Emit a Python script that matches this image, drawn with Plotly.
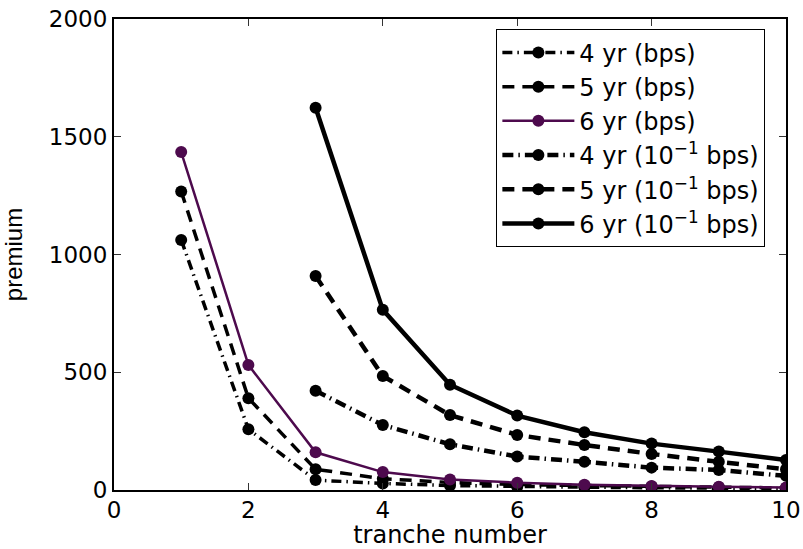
import plotly.graph_objects as go

tranche = [1, 2, 3, 4, 5, 6, 7, 8, 9, 10]
tranche_b = [3, 4, 5, 6, 7, 8, 9, 10]

bps_4yr = [1062, 258, 42, 28, 19, 14, 12, 9.5, 8.5, 6]
bps_5yr = [1268, 390, 88, 48, 32, 23, 19, 15, 12, 8.8]
bps_6yr = [1435, 531, 160, 76, 45, 31, 22, 17, 14, 11]

tenth_4yr = [421, 276, 194, 142, 120, 95, 85, 60]
tenth_5yr = [909, 484, 318, 234, 191, 153, 120, 88]
tenth_6yr = [1623, 765, 447, 316, 245, 197, 163, 127]

names = ["4 yr (bps)", "5 yr (bps)", "6 yr (bps)",
         "4 yr (10<sup>−1</sup> bps)", "5 yr (10<sup>−1</sup> bps)", "6 yr (10<sup>−1</sup> bps)"]

x_ticks = [0, 2, 4, 6, 8, 10]
y_ticks = [0, 500, 1000, 1500, 2000]

PURPLE = "#4d0a4d"
FONT = "DejaVu Sans"

fig = go.Figure()

series = [
    (tranche, bps_4yr, names[0], "black", 3.5, "10px,5px,1.5px,5px"),
    (tranche, bps_5yr, names[1], "black", 3.5, "12px,8px"),
    (tranche, bps_6yr, names[2], PURPLE, 2.5, "solid"),
    (tranche_b, tenth_4yr, names[3], "black", 4.5, "11px,5px,1.5px,5px"),
    (tranche_b, tenth_5yr, names[4], "black", 4.5, "12px,8px"),
    (tranche_b, tenth_6yr, names[5], "black", 4.5, "solid"),
]

for i, (xs, ys, nm, col, w, dash) in enumerate(series):
    fig.add_trace(go.Scatter(
        x=xs, y=ys, name=nm, mode="lines+markers",
        line=dict(color=col, width=w, dash=dash),
        marker=dict(color=col, size=12, symbol="circle"),
        legendgroup="g%d" % i,
    ))

fig.update_layout(
    width=803, height=549,
    margin=dict(l=114, r=17, t=19, b=59, autoexpand=False),
    paper_bgcolor="white", plot_bgcolor="white",
    font=dict(family=FONT, size=23, color="black"),
    showlegend=True,
    legend=dict(
        x=0.569, y=0.978, xanchor="left", yanchor="top",
        bgcolor="white", bordercolor="black", borderwidth=1,
        font=dict(family=FONT, size=24, color="black"),
        tracegroupgap=0, itemwidth=72,
    ),
    xaxis=dict(
        range=[0, 10], tickvals=x_ticks, ticktext=[str(v) for v in x_ticks],
        showgrid=False, zeroline=False, showline=True, linecolor="black", linewidth=2,
        mirror="ticks", ticks="inside", ticklen=7, tickcolor="#333", tickwidth=1,
        automargin=False, ticklabeloverflow="allow", ticklabelstandoff=-2,
        title=dict(text="tranche number", standoff=10, font=dict(family=FONT, size=24)),
        tickfont=dict(family=FONT, size=23),
    ),
    yaxis=dict(
        range=[0, 2000], tickvals=y_ticks, ticktext=[str(v) for v in y_ticks],
        showgrid=False, zeroline=False, showline=True, linecolor="black", linewidth=2,
        mirror="ticks", ticks="inside", ticklen=7, tickcolor="#333", tickwidth=1,
        automargin=False, ticklabeloverflow="allow",
        title=dict(text="premium", standoff=22, font=dict(family="Liberation Sans", size=24)),
        tickfont=dict(family=FONT, size=23),
    ),
)

fig.write_html(
    "out.html",
    config={"displayModeBar": False},
    post_script="document.body.style.margin='0';document.body.style.overflow='hidden';",
)
